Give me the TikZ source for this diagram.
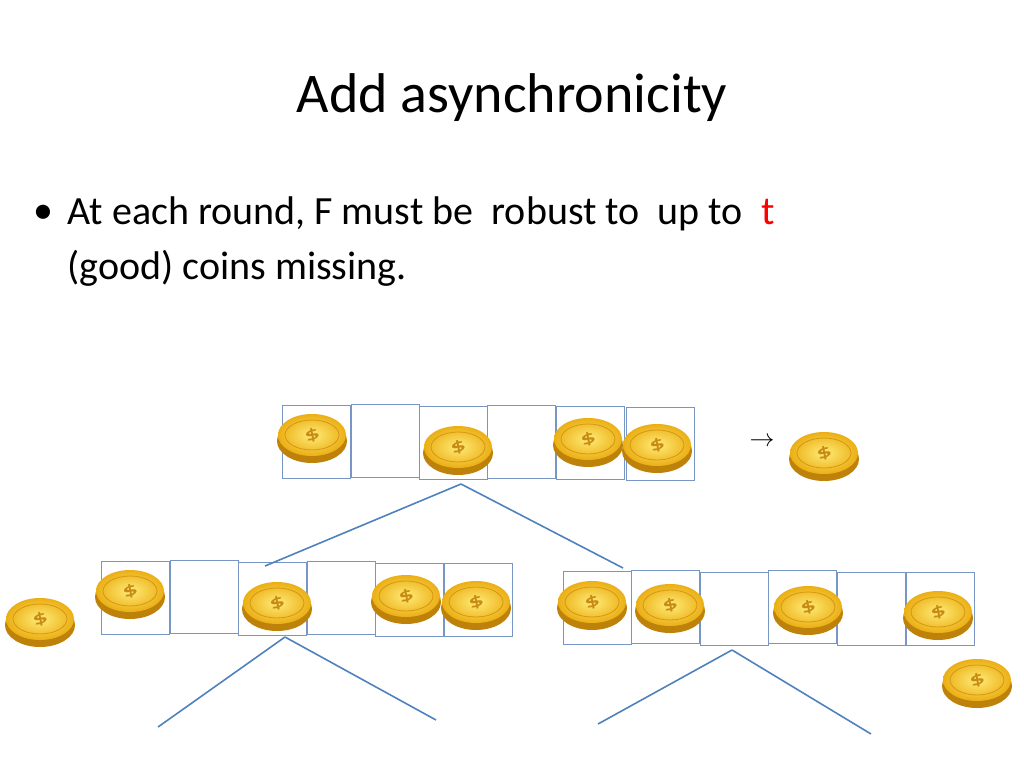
\documentclass[tikz,border=0pt]{standalone}
\usepackage{fontspec}
\setmainfont{Carlito}
\definecolor{treeblue}{RGB}{79,129,189}
\definecolor{cellblue}{RGB}{120,150,195}
\definecolor{coinrim}{RGB}{190,130,10}
\definecolor{coinlight}{RGB}{255,235,120}
\definecolor{coinmid}{RGB}{235,175,20}
\definecolor{coinline}{RGB}{215,150,20}
\definecolor{coindollar}{RGB}{200,140,20}
\begin{document}
\begin{tikzpicture}[x=1pt,y=-1pt,
  cell/.style={draw=cellblue, line width=0.9pt, minimum width=68pt, minimum height=73pt, inner sep=0pt, fill=white},
  tree/.style={draw=treeblue, line width=1.6pt},
  coin/.pic={
    \fill[coinrim] (0,6) ellipse (35pt and 22pt);
    \shade[inner color=coinlight, outer color=coinmid] (0,0) ellipse (34pt and 21pt);
    \draw[coinline, line width=0.8pt] (0,0) ellipse (27pt and 15pt);
    \node[text=coindollar, font=\bfseries\fontsize{30}{30}\selectfont, rotate=20, yscale=0.6] at (0,0) {\$};
  }]
\useasboundingbox (0,0) rectangle (1024,768);
\node[font=\fontsize{56}{60}\selectfont] (title) at (512,98) {Add asynchronicity};
\node[anchor=west, font=\fontsize{40}{44}\selectfont] (b1) at (30,214) {\textbullet};
\node[anchor=west, font=\fontsize{40}{44}\selectfont] (l1) at (64,214) {At each round, F must be~~robust to~~up to~~\textcolor{red}{t}};
\node[anchor=west, font=\fontsize{40}{44}\selectfont] (l2) at (64,268) {(good) coins missing.};
\foreach \i/\x/\y in {1/316/442,2/385/441,3/453/443,4/521/442,5/590/443,6/660/444}
  \node[cell] (t\i) at (\x,\y) {};
\foreach \i/\x/\y in {1/135/598,2/204/597,3/272/599,4/341/598,5/409/600,6/478/600}
  \node[cell] (l\i) at (\x,\y) {};
\foreach \i/\x/\y in {1/597/608,2/665/607,3/734/609,4/802/607,5/871/609,6/940/609}
  \node[cell] (r\i) at (\x,\y) {};
\coordinate (tc) at (461,484);
\coordinate (lc) at (285,637);
\coordinate (rc) at (732,650);
\coordinate (ta) at (265,566);\coordinate (tb) at (623,568);
\coordinate (la) at (158,727);\coordinate (lb) at (436,720);
\coordinate (ra) at (598,724);\coordinate (rb) at (871,734);
\draw[tree] (tc) -- (ta); \draw[tree] (tc) -- (tb);
\draw[tree] (lc) -- (la); \draw[tree] (lc) -- (lb);
\draw[tree] (rc) -- (ra); \draw[tree] (rc) -- (rb);
\foreach \x/\y in {312/435,458/447,588/439,657/445,824/453,
  130/591,277/603,406/596,476/602,40/619,
  592/602,670/605,808/607,938/612,977/680}
  \pic at (\x,\y) {coin};
\node[font=\fontsize{26}{26}\selectfont] (arr) at (762,442) {$\rightarrow$};
\end{tikzpicture}
\end{document}
